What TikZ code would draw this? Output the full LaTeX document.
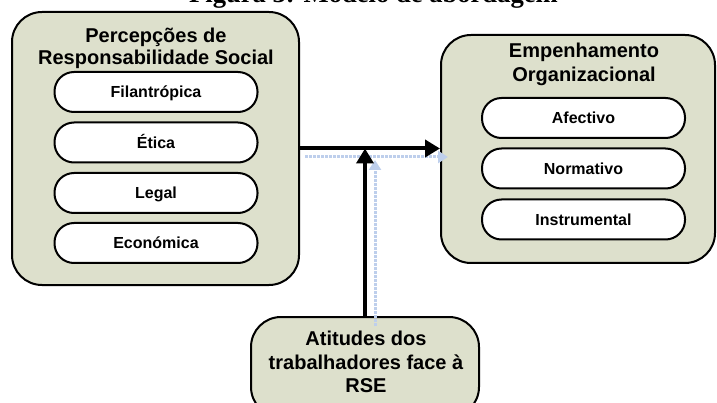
\documentclass[tikz,border=0pt]{standalone}
\usepackage{fontspec}
\setmainfont{Liberation Serif}
\newfontfamily\arialf{Liberation Sans}
\usetikzlibrary{arrows.meta}
\definecolor{boxfill}{RGB}{221,224,204}
\definecolor{ghost}{RGB}{190,207,236}
\begin{document}
\begin{tikzpicture}[x=1pt,y=-1pt,
  outerbox/.style={draw, line width=2pt, fill=boxfill, rounded corners=30pt, inner sep=0pt},
  pill/.style={draw, line width=2pt, fill=white, rounded corners=19.5pt, minimum width=203pt, minimum height=40pt, inner sep=0pt, font=\arialf\bfseries\fontsize{16}{19}\selectfont, text height=11.5pt, text depth=0pt},
  titletext/.style={anchor=base, inner sep=0pt, font=\arialf\bfseries\fontsize{20}{23}\selectfont},
  arr/.style={line width=4pt, -{Triangle[length=15pt,width=17pt]}},
  ghostarr/.style={ghost, line width=3pt, densely dotted, -{Triangle[length=10pt,width=12pt]}}
]
\useasboundingbox (0,0) rectangle (717,403);
% title (cut at the top)
\node[anchor=base, inner sep=0pt, font=\bfseries\fontsize{26.6}{30}\selectfont] (T) at (373.5,3) {Figura 3: Modelo de abordagem};
% outer boxes
\node[outerbox, minimum width=287pt, minimum height=273pt] (L) at (155.5,148.5) {};
\node[outerbox, minimum width=274pt, minimum height=228pt] (R) at (578,149) {};
\node[outerbox, minimum width=228pt, minimum height=100pt] (B) at (365,367) {};
% left box
\node[titletext] (Lt1) at (156,43) {Percepções de};
\node[titletext] (Lt2) at (156,65) {Responsabilidade Social};
\node[pill] (P1) at (156,92) {Filantrópica};
\node[pill] (P2) at (156,142.5) {Ética};
\node[pill] (P3) at (156,193) {Legal};
\node[pill] (P4) at (156,243) {Económica};
% right box
\node[titletext] (Rt1) at (584,58) {Empenhamento};
\node[titletext] (Rt2) at (584,82) {Organizacional};
\node[pill] (E1) at (583.5,118) {Afectivo};
\node[pill] (E2) at (583.5,168.5) {Normativo};
\node[pill] (E3) at (583.5,219.5) {Instrumental};
% bottom box
\node[titletext] (Bt1) at (366,345) {Atitudes dos};
\node[titletext] (Bt2) at (366,369) {trabalhadores face à};
\node[titletext] (Bt3) at (366,392) {RSE};
% ghost connectors
\coordinate (g1) at (305,157);
\coordinate (g2) at (448,157);
\coordinate (g3) at (375,326);
\coordinate (g4) at (375,160);
\draw[ghostarr] (g1) -- (g2);
\draw[ghostarr] (g3) -- (g4);
% connectors
\draw[arr] (L.east) -- (L.east -| R.west);
\draw[arr] (B.north) -- (B.north |- L.east);
\end{tikzpicture}
\end{document}
